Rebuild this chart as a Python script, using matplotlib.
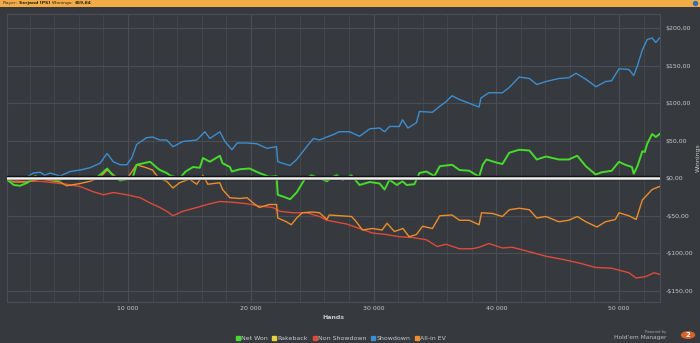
import matplotlib.pyplot as plt
from matplotlib.patches import Circle
from matplotlib.ticker import FuncFormatter, MultipleLocator

# hands in thousands, cumulative $ winnings
sd_hands = [0, 0.7, 1.5, 2.3, 2.85, 3.2, 3.65, 4.47, 5.28, 6.1, 6.9, 7.72, 8.29, 8.8, 9.35, 9.9,
            10.3, 10.7, 11.5, 12.0, 12.6, 13.15, 13.66, 14.47, 15.6, 16.26, 16.67, 17.48, 17.9,
            18.46, 18.9, 19.7, 20.5, 21.3, 22.1, 22.2, 23.2, 23.74, 24.55, 25.1, 25.6, 26.2, 26.7,
            27.2, 28.05, 28.86, 29.7, 30.5, 30.9, 31.3, 32.1, 32.36, 32.8, 33.5, 33.74, 34.8, 35.4,
            35.9, 36.4, 37.0, 37.8, 38.6, 38.75, 39.4, 40.5, 41.06, 41.87, 42.7, 43.3, 44.05, 45.1,
            45.9, 46.5, 47.3, 48.13, 48.9, 49.4, 50.0, 50.8, 51.2, 51.5, 51.9, 52.3, 52.7, 53.0, 53.3]
showdown = [0, -2, -1, 7, 8, 4, 7, 3, 9, 11, 14, 20, 33, 22, 18, 18,
            27, 45, 54, 55, 51, 51, 42, 49, 51, 62, 53, 62, 49,
            38, 47, 47, 46, 40, 42, 22, 17, 25, 42, 53, 51, 55, 58,
            62, 62, 56, 66, 67, 62, 69, 69, 78, 67, 74, 89, 88, 96,
            102, 110, 105, 100, 95, 107, 114, 114, 121, 135, 133, 125, 129, 133,
            134, 140, 132, 122, 129, 130, 146, 145, 137, 150, 171, 185, 187, 181, 187]

nw_hands = [0, 0.7, 1.2, 1.8, 2.44, 2.85, 3.65, 4.1, 5.0, 6.1, 7.45, 7.9, 8.3, 8.8, 9.35, 10.0,
            10.4, 10.7, 11.8, 12.35, 12.6, 13.15, 13.4, 14.2, 14.7, 15.3, 15.85, 16.1, 16.67, 17.48,
            17.7, 18.3, 18.46, 19.1, 19.9, 20.7, 21.5, 22.1, 22.2, 22.9, 23.2, 23.74, 24.4, 24.95,
            25.6, 26.2, 26.7, 27.0, 27.5, 28.2, 28.86, 29.7, 30.5, 30.9, 31.3, 31.9, 32.36, 32.7,
            33.33, 33.74, 34.3, 34.96, 35.4, 36.4, 37.0, 37.8, 38.6, 38.9, 39.2, 40.0, 40.5, 41.06,
            41.87, 42.7, 43.3, 44.05, 45.1, 45.9, 46.6, 47.3, 48.1, 48.6, 49.4, 50.0, 50.5, 51.05,
            51.2, 51.5, 51.9, 52.1, 52.3, 52.7, 53.0, 53.3]
net_won = [0, -9, -10, -6, 3, 0, 0, -3, 0, 0, 1, 7, 13, 3, -3, -1,
           2, 18, 22, 14, 11, 7, 4, 0, 9, 15, 14, 27, 22, 30,
           20, 15, 9, 12, 13, 7, 2, 3, -22, -26, -28, -19, -1, 4,
           0, -4, 2, 4, -2, 4, -9, -5, -7, -15, -2, -9, -4, -9,
           -8, 7, 9, 3, 16, 18, 11, 10, 2, 18, 25, 21, 19, 34,
           38, 37, 25, 29, 25, 25, 30, 16, 5, 8, 10, 22, 18, 15,
           6, 16, 36, 35, 46, 59, 55, 59]

ev_hands = [0, 0.7, 1.8, 2.85, 4.47, 5.0, 6.1, 6.9, 7.7, 8.3, 9.1, 9.9, 10.7, 11.5, 12.0, 12.45,
            13.15, 13.66, 14.2, 15.0, 15.6, 16.1, 16.5, 17.48, 17.7, 18.3, 19.1, 19.7, 20.2, 20.7,
            21.5, 22.1, 22.2, 22.9, 23.3, 23.74, 24.2, 25.0, 25.6, 26.2, 26.4, 28.2, 28.5, 29.1,
            29.9, 30.7, 31.1, 31.7, 32.4, 32.9, 33.5, 34.0, 34.8, 35.4, 36.4, 37.0, 37.8, 38.6,
            38.8, 39.7, 40.5, 41.06, 41.87, 42.7, 43.3, 44.05, 45.1, 45.9, 46.6, 47.3, 48.2, 48.9,
            49.7, 50.0, 50.8, 51.4, 51.9, 52.3, 52.7, 53.3]
allin_ev = [0, -5, -5, -1, -5, -10, -7, -4, 1, 11, 1, -1, 18, 14, 11, 1,
            -4, -13, -6, -1, -8, 4, -8, -6, -15, -26, -27, -26, -33, -39,
            -35, -35, -53, -58, -62, -53, -46, -45, -46, -55, -49, -51, -56, -69,
            -67, -69, -60, -71, -67, -78, -75, -64, -67, -50, -49, -56, -56, -62,
            -46, -47, -51, -42, -40, -42, -53, -51, -58, -56, -51, -58, -65, -58,
            -55, -46, -50, -55, -29, -22, -15, -11]

ns_hands = [0, 1.2, 2.85, 5.0, 6.1, 7.17, 8.0, 8.8, 9.9, 11.0, 11.8, 12.6, 13.15, 13.66, 14.47,
            15.6, 16.67, 17.48, 18.54, 19.7, 20.7, 21.8, 22.36, 23.4, 24.55, 25.6, 26.2, 27.8,
            28.86, 29.9, 31.05, 32.1, 33.17, 34.3, 35.2, 35.9, 37.0, 38.05, 38.6, 39.4, 40.5,
            41.3, 42.7, 44.05, 45.37, 46.75, 48.1, 49.4, 50.8, 51.4, 52.2, 52.85, 53.3]
non_showdown = [0, -4, -4, -8, -11, -18, -22, -19, -22, -26, -33, -39, -44, -50, -44,
                -39, -34, -31, -32, -34, -37, -39, -44, -46, -46, -51, -56, -61,
                -67, -73, -75, -78, -79, -82, -91, -88, -94, -94, -92, -87, -93,
                -92, -98, -104, -108, -113, -119, -120, -126, -133, -131, -126, -128]

rb_hands = [0, 53.3]
rakeback = [0, 0]

legend_names = ['Net Won', 'Rakeback', 'Non Showdown', 'Showdown', 'All-in EV']
legend_colors = ['#45dc2a', '#e8d43a', '#de4a3c', '#3b8ed0', '#ec8e2c']

bg = '#36393e'
txt = '#c9c9c9'

fig = plt.figure(figsize=(7, 3.43), dpi=100, facecolor=bg)
ax = fig.add_axes([7 / 700, 1 - 302 / 343, 653 / 700, 288 / 343])
ax.set_facecolor(bg)

def k(h):
    return [v * 1000 for v in h]

ax.plot(k(rb_hands), rakeback, color=legend_colors[1], lw=1.2, zorder=3)
ax.plot(k(ns_hands), non_showdown, color=legend_colors[2], lw=1.0, zorder=3)
ax.plot(k(ev_hands), allin_ev, color=legend_colors[4], lw=1.0, zorder=3)
ax.plot(k(sd_hands), showdown, color=legend_colors[3], lw=1.0, zorder=3)
ax.plot(k(nw_hands), net_won, color=legend_colors[0], lw=1.4, zorder=4)
# zero line: white with a dark rim
ax.axhline(0, color='#111111', lw=3.2, zorder=5)
ax.axhline(0, color='#f0f0f0', lw=1.8, zorder=6)

ax.set_xlim(140, 53340)
ax.set_ylim(-165, 219)
ax.xaxis.set_major_locator(MultipleLocator(10000))
ax.xaxis.set_minor_locator(MultipleLocator(2000))
ax.yaxis.set_major_locator(MultipleLocator(50))
ax.xaxis.set_major_formatter(FuncFormatter(lambda v, p: f"{int(v):,}".replace(',', ' ')))

def money(v, p):
    s = f"${abs(v):,.2f}".replace('.', ',')
    return ('-' + s) if v < 0 else s

ax.yaxis.set_major_formatter(FuncFormatter(money))
ax.yaxis.tick_right()
ax.yaxis.set_label_position('right')
ax.tick_params(axis='both', which='both', length=0, colors=txt, labelsize=4.5)
ax.tick_params(axis='x', pad=3)
ax.tick_params(axis='y', pad=4)
ax.grid(which='major', color='#4a4e54', lw=0.8)
ax.grid(which='minor', axis='x', color='#45494e', lw=0.6)
for s in ax.spines.values():
    s.set_color('#4a4e54')
    s.set_linewidth(0.8)

ax.set_xlabel('Hands', color=txt, fontsize=4.5, fontweight='bold', labelpad=3)
ax.set_ylabel('Winnings', color=txt, fontsize=4.5, labelpad=2)

handles = [plt.Line2D([], [], ls='none', marker='s', ms=2.5, color=c) for c in legend_colors]
fig.legend(handles, legend_names, loc='center', bbox_to_anchor=(341 / 700, 1 - 338 / 343), ncol=5,
           frameon=False, fontsize=4.5, labelcolor=txt, handletextpad=0.2, columnspacing=0.8,
           handlelength=0.6)

# header bar as its own little axes on top
hax = fig.add_axes([0, 1 - 6.5 / 343, 1, 6.5 / 343], zorder=10)
hax.set_facecolor('#f2ab45')
hax.set_xticks([])
hax.set_yticks([])
for s in hax.spines.values():
    s.set_visible(False)
hax.set_xlim(0, 700)
hax.set_ylim(0, 1)
prev = hax.text(3, 0.5, 'Player:', fontsize=3.2, color='#333333', va='center')
for s, w in [('Serjand [PS]', 'bold'), ('Winnings:', 'normal'), ('$59,84', 'bold')]:
    prev = hax.annotate(s, xy=(1, 0.5), xycoords=prev, xytext=(1, 0), textcoords='offset points',
                        fontsize=3.2, color='#222222', va='center', fontweight=w)
hax.scatter([695], [0.5], s=8, color='#2e6fb8')

# footer logo
fig.text(666 / 700, 1 - 332 / 343, 'Powered by', fontsize=2.6, color='#aaaaaa',
         ha='right', va='center')
fig.text(666 / 700, 1 - 337.5 / 343, "Hold'em Manager", fontsize=4.2, color='#bbbbbb',
         ha='right', va='center')
fig.patches.append(Circle((688 / 700, 1 - 335 / 343), 6.5 / 700, transform=fig.transFigure,
                          color='#d8622a'))
fig.text(688 / 700, 1 - 335 / 343, '2', fontsize=5, color='white', ha='center', va='center',
         fontweight='bold')

fig.savefig('out.png', dpi=100, facecolor=bg)
